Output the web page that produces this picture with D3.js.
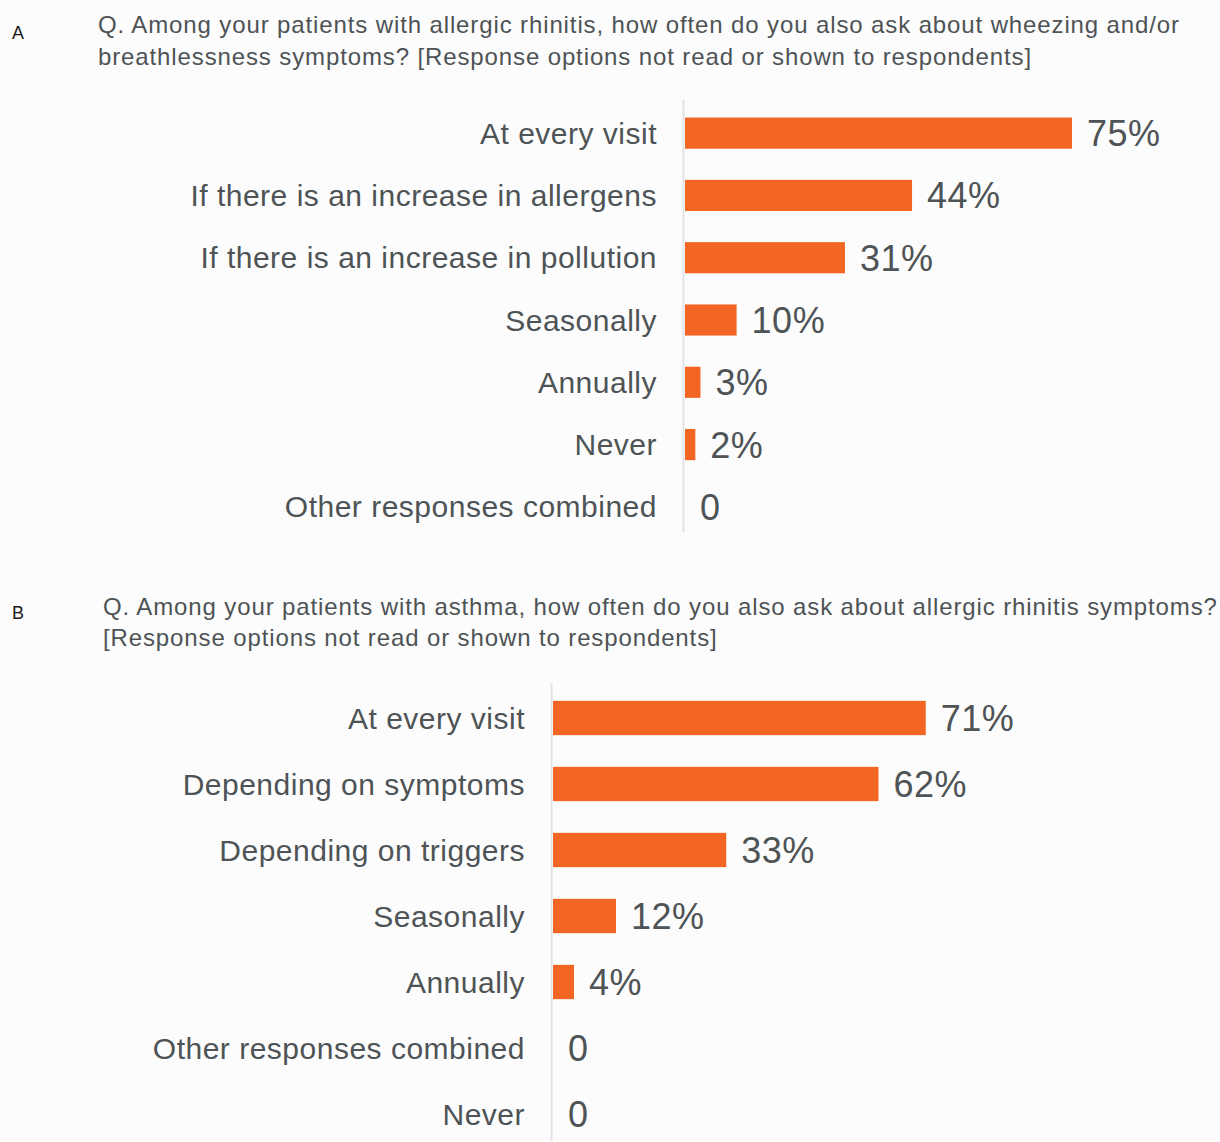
<!DOCTYPE html>
<html>
<head>
<meta charset="utf-8">
<script src="https://cdn.jsdelivr.net/npm/d3@7"></script>
<style>
  body { margin: 0; background: #fcfcfd; }
  svg text { font-family: "Liberation Sans", Arial, sans-serif; }
</style>
</head>
<body>
<div class="chart"></div>
<script>
// panel A data
let catsA = ["At every visit", "If there is an increase in allergens", "If there is an increase in pollution",
  "Seasonally", "Annually", "Never", "Other responses combined"];
let valsA = [75, 44, 31, 10, 3, 2, 0];
let titleA = ["Q. Among your patients with allergic rhinitis, how often do you also ask about wheezing and/or",
  "breathlessness symptoms? [Response options not read or shown to respondents]"];

// panel B data
let catsB = ["At every visit", "Depending on symptoms", "Depending on triggers",
  "Seasonally", "Annually", "Other responses combined", "Never"];
let valsB = [71, 62, 33, 12, 4, 0, 0];
let titleB = ["Q. Among your patients with asthma, how often do you also ask about allergic rhinitis symptoms?",
  "[Response options not read or shown to respondents]"];

let width = 1220, height = 1142;
let orange = "#f26522", textCol = "#4e5355";

var svg = d3.select(".chart")
  .append("svg")
    .attr("width", width)
    .attr("height", height);

function label(letter, x, y) {
  svg.append("text")
    .attr("x", x).attr("y", y)
    .attr("font-size", 18)
    .attr("fill", "#1a1a1a")
    .text(letter);
}

function title(lines, x, y0, lh) {
  svg.append("g").selectAll("text")
    .data(lines)
    .enter()
    .append("text")
      .attr("x", x)
      .attr("y", function(d, i) { return y0 + i * lh; })
      .attr("font-size", 24)
      .attr("letter-spacing", 0.88)
      .attr("fill", textCol)
      .text(function(d) { return d; });
}

function panel(cats, vals, axisX, xMax, top, bottom, pad) {
  let x = d3.scaleLinear().domain([0, 100]).range([axisX, xMax]);
  let y = d3.scaleBand().domain(cats).range([top, bottom]).paddingInner(pad).paddingOuter(pad / 2);

  // faint axis line
  svg.append("line")
    .attr("x1", axisX - 1.5).attr("x2", axisX - 1.5)
    .attr("y1", top - 2).attr("y2", bottom - 6)
    .attr("stroke", "#e2e3e6")
    .attr("stroke-width", 2);

  let g = svg.append("g");
  let rows = g.selectAll(".row")
    .data(cats)
    .enter()
    .append("g")
      .attr("class", "row");

  rows.append("rect")
    .attr("x", x(0))
    .attr("y", function(d) { return y(d); })
    .attr("width", function(d, i) { return x(vals[i]) - x(0); })
    .attr("height", y.bandwidth())
    .attr("fill", orange);

  rows.append("text")
    .attr("x", axisX - 28)
    .attr("y", function(d) { return y(d) + y.bandwidth() / 2; })
    .attr("dy", "0.35em")
    .attr("text-anchor", "end")
    .attr("font-size", 30)
    .attr("letter-spacing", 0.5)
    .attr("fill", textCol)
    .text(function(d) { return d; });

  rows.append("text")
    .attr("x", function(d, i) { return x(vals[i]) + 15; })
    .attr("y", function(d) { return y(d) + y.bandwidth() / 2; })
    .attr("dy", "0.36em")
    .attr("font-size", 36)
    .attr("letter-spacing", 0.5)
    .attr("fill", textCol)
    .text(function(d, i) { return vals[i] === 0 ? "0" : vals[i] + "%"; });
}

label("A", 12, 39);
title(titleA, 98, 33, 32);
panel(catsA, valsA, 685, 1201, 102, 538, 0.5);

label("B", 12, 619);
title(titleB, 103, 615, 31);
panel(catsB, valsB, 553, 1078, 685, 1147, 0.48);
</script>
</body>
</html>
